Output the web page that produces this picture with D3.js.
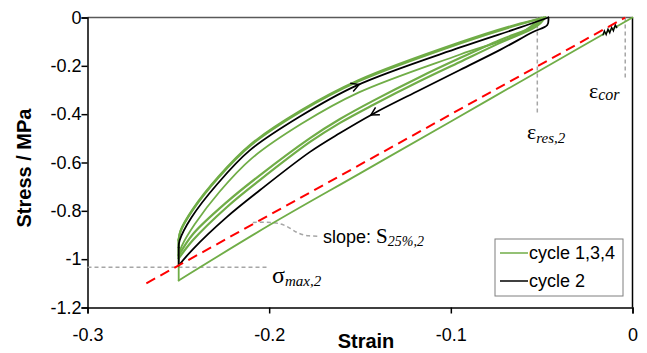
<!DOCTYPE html>
<html>
<head>
<meta charset="utf-8">
<script src="https://cdn.jsdelivr.net/npm/d3@7"></script>
<style>
  body { margin: 0; background: #fff; }
  svg { display: block; font-family: Arial, "Liberation Sans", sans-serif; }
</style>
</head>
<body>
<div id="chart"></div>
<script>
// axis ticks
const xTicks = [-0.3, -0.2, -0.1, 0];
const yTicks = [0, -0.2, -0.4, -0.6, -0.8, -1, -1.2];

// [strain, stress] -- loading runs start -> peak, unloading runs peak -> end
const cycle1Load = [[0, 0], [-0.05, -0.215], [-0.10, -0.43], [-0.15, -0.645], [-0.20, -0.86], [-0.2498, -1.088]];
const cycle1Unload = [[-0.2498, -0.981], [-0.2482, -0.947], [-0.2410, -0.856], [-0.2272, -0.720], [-0.2096, -0.583],
  [-0.1820, -0.439], [-0.1506, -0.310], [-0.0949, -0.153], [-0.0618, -0.066], [-0.0502, 0]];

const cycle2Load = [[-0.0463, 0], [-0.0469, -0.031], [-0.0548, -0.060], [-0.0729, -0.134], [-0.0950, -0.217], [-0.1170, -0.300],
  [-0.1429, -0.399], [-0.1610, -0.478], [-0.1775, -0.556], [-0.2050, -0.714], [-0.2232, -0.825], [-0.2419, -0.958], [-0.2498, -1.026]];
const cycle2Unload = [[-0.2498, -0.952], [-0.2493, -0.923], [-0.2427, -0.827], [-0.2283, -0.687], [-0.2107, -0.550],
  [-0.1831, -0.410], [-0.1517, -0.281], [-0.0949, -0.124], [-0.0618, -0.041], [-0.0463, 0]];

const cycle3Load = [[-0.0480, 0], [-0.0529, -0.037], [-0.0729, -0.105], [-0.0950, -0.184], [-0.1170, -0.263],
  [-0.1429, -0.362], [-0.1610, -0.436], [-0.1775, -0.515], [-0.2050, -0.672], [-0.2232, -0.784], [-0.2419, -0.921], [-0.2498, -0.997]];
const cycle3Unload = [[-0.2498, -0.918], [-0.2487, -0.881], [-0.2421, -0.794], [-0.2278, -0.658], [-0.2101, -0.525],
  [-0.1825, -0.385], [-0.1511, -0.261], [-0.0949, -0.103], [-0.0618, -0.025], [-0.0480, 0]];

const cycle4Load = [[-0.0491, 0], [-0.0546, -0.037], [-0.0729, -0.093], [-0.0950, -0.168], [-0.1170, -0.246],
  [-0.1429, -0.345], [-0.1610, -0.420], [-0.1775, -0.499], [-0.2050, -0.652], [-0.2232, -0.763], [-0.2419, -0.896], [-0.2498, -0.985]];
const cycle4Unload = [[-0.2498, -0.922], [-0.2488, -0.885], [-0.2422, -0.798], [-0.2279, -0.662], [-0.2102, -0.529],
  [-0.1826, -0.389], [-0.1512, -0.265], [-0.0950, -0.107], [-0.0618, -0.028], [-0.0477, 0]];

// small black squiggle on the first loading line
const squiggle = [[-0.0085, -0.044], [-0.0095, -0.030], [-0.0105, -0.056], [-0.0115, -0.040], [-0.0125, -0.064],
  [-0.0135, -0.048], [-0.0145, -0.071], [-0.0155, -0.055], [-0.0163, -0.074]];

// slope line S25%,2 and reference values
const slopeLine = [[-0.2676, -1.10], [-0.004, 0]];
const sigmaMax2 = -1.033;
const epsRes2 = -0.0524;
const epsCor = -0.004;
const leaderLine = [[-0.209, -0.848], [-0.197, -0.846], [-0.190, -0.862], [-0.184, -0.896], [-0.178, -0.905], [-0.172, -0.905]];

const legendItems = ["cycle 1,3,4", "cycle 2"];

const GREEN = "#70ad47";
const RED = "#ff0000";
const GREY = "#a6a6a6";

const width = 647, height = 353;
const svg = d3.select("#chart").append("svg")
  .attr("width", width)
  .attr("height", height);

const x = d3.scaleLinear().domain([-0.3, 0]).range([87.5, 632.5]);
const y = d3.scaleLinear().domain([-1.2, 0]).range([307.5, 17.5]);

const line = d3.line().x(d => x(d[0])).y(d => y(d[1]));
const smooth = d3.line().curve(d3.curveCatmullRom.alpha(0.5)).x(d => x(d[0])).y(d => y(d[1]));

// frame (top + right)
svg.append("line").attr("x1", x(-0.3)).attr("x2", x(0)).attr("y1", y(0)).attr("y2", y(0))
  .attr("stroke", "#595959").attr("stroke-width", 1.5);
svg.append("line").attr("x1", x(0)).attr("x2", x(0)).attr("y1", y(0)).attr("y2", y(-1.2))
  .attr("stroke", "#000").attr("stroke-width", 1.5);

// axes
const xAxis = svg.append("g")
  .attr("transform", `translate(0,${y(-1.2)})`)
  .call(d3.axisBottom(x).tickValues(xTicks).tickSize(6).tickFormat(d => d === 0 ? "0" : d3.format(".1f")(d).replace("−", "-")));
const yAxis = svg.append("g")
  .attr("transform", `translate(${x(-0.3)},0)`)
  .call(d3.axisLeft(y).tickValues(yTicks).tickSize(6).tickFormat(d => String(d)));
[xAxis, yAxis].forEach(g => {
  g.select(".domain").attr("stroke", "#000").attr("stroke-width", 1.5);
  g.selectAll(".tick line").attr("stroke", "#000").attr("stroke-width", 1.5);
  g.selectAll(".tick text").attr("fill", "#000").attr("font-size", 18).attr("font-family", "Arial, 'Liberation Sans', sans-serif");
});
xAxis.selectAll(".tick text").attr("dy", "0").attr("y", 33);
yAxis.selectAll(".tick text").attr("x", -6);

// axis titles
svg.append("text").attr("x", 366).attr("y", 348).attr("text-anchor", "middle")
  .attr("font-size", 20).attr("font-weight", "bold").text("Strain");
svg.append("text").attr("transform", "translate(31,168) rotate(-90)").attr("text-anchor", "middle")
  .attr("font-size", 20).attr("font-weight", "bold").text("Stress / MPa");

// grey helper lines
const dash = "4,3";
svg.append("line").attr("x1", x(-0.3)).attr("x2", x(-0.2)).attr("y1", y(sigmaMax2)).attr("y2", y(sigmaMax2))
  .attr("stroke", GREY).attr("stroke-width", 1.5).attr("stroke-dasharray", dash);
svg.append("line").attr("x1", x(epsRes2)).attr("x2", x(epsRes2)).attr("y1", y(0)).attr("y2", y(-0.4))
  .attr("stroke", GREY).attr("stroke-width", 1.5).attr("stroke-dasharray", dash);
svg.append("line").attr("x1", x(epsCor)).attr("x2", x(epsCor)).attr("y1", y(0)).attr("y2", y(-0.25))
  .attr("stroke", GREY).attr("stroke-width", 1.5).attr("stroke-dasharray", dash);
svg.append("path").attr("d", d3.line().curve(d3.curveBasis).x(d => x(d[0])).y(d => y(d[1]))(leaderLine))
  .attr("fill", "none").attr("stroke", GREY).attr("stroke-width", 1.5).attr("stroke-dasharray", dash);

// one hysteresis loop: smooth loading, straight relaxation at peak strain, smooth unloading
function drawCycle(ld, ul, color, w) {
  const g = svg.append("g").attr("fill", "none").attr("stroke", color)
    .attr("stroke-width", w).attr("stroke-linejoin", "round").attr("stroke-linecap", "round");
  g.append("path").attr("d", smooth(ld));
  g.append("path").attr("d", line([ld[ld.length - 1], ul[0]]));
  g.append("path").attr("d", smooth(ul));
}
drawCycle(cycle1Load, cycle1Unload, GREEN, 1.8);
drawCycle(cycle3Load, cycle3Unload, GREEN, 2.2);
drawCycle(cycle4Load, cycle4Unload, GREEN, 2.2);
drawCycle(cycle2Load, cycle2Unload, "#000", 1.8);

svg.append("path").attr("d", line(squiggle))
  .attr("fill", "none").attr("stroke", "#000").attr("stroke-width", 1.3);

// red slope line
svg.append("path").attr("d", line(slopeLine))
  .attr("fill", "none").attr("stroke", RED).attr("stroke-width", 2).attr("stroke-dasharray", "10,6");

// direction arrows on cycle 2 (pointing along the data order)
function arrowAt(data, strain) {
  const pts = data.map(d => [x(d[0]), y(d[1])]);
  const px = x(strain);
  let i = 1;
  while (i < pts.length - 1 && !((pts[i - 1][0] - px) * (pts[i][0] - px) <= 0)) i++;
  const a = pts[i - 1], b = pts[i];
  const t = (px - a[0]) / (b[0] - a[0]);
  const py = a[1] + t * (b[1] - a[1]);
  const ang = Math.atan2(b[1] - a[1], b[0] - a[0]);
  const len = 9, spread = 0.5;
  const p1 = [px - len * Math.cos(ang - spread), py - len * Math.sin(ang - spread)];
  const p2 = [px - len * Math.cos(ang + spread), py - len * Math.sin(ang + spread)];
  svg.append("path").attr("d", `M${p1}L${px},${py}L${p2}`)
    .attr("fill", "none").attr("stroke", "#000").attr("stroke-width", 1.5);
}
arrowAt(cycle2Unload, -0.1505);
arrowAt(cycle2Load, -0.1440);

// annotations
const serif = "'Liberation Serif', 'DejaVu Serif', serif";
const sig = svg.append("text").attr("x", 272).attr("y", 283).attr("font-family", serif).attr("font-size", 24);
sig.append("tspan").text("σ");
sig.append("tspan").attr("font-size", 15).attr("font-style", "italic").attr("dy", 3).text("max,2");

const slope = svg.append("text").attr("x", 323).attr("y", 243).attr("font-size", 18);
slope.append("tspan").text("slope: ");
slope.append("tspan").attr("font-family", serif).attr("font-size", 21).text("S");
slope.append("tspan").attr("font-family", serif).attr("font-size", 14).attr("font-style", "italic").attr("dy", 3).text("25%,2");

const er = svg.append("text").attr("x", 527).attr("y", 139).attr("font-family", serif).attr("font-size", 22);
er.append("tspan").text("ε");
er.append("tspan").attr("font-size", 15).attr("font-style", "italic").attr("dy", 4).text("res,2");

const ec = svg.append("text").attr("x", 589).attr("y", 98).attr("font-family", serif).attr("font-size", 22);
ec.append("tspan").text("ε");
ec.append("tspan").attr("font-size", 16).attr("font-style", "italic").attr("dy", 2).text("cor");

// legend
const lg = svg.append("g").attr("transform", "translate(495,239)");
lg.append("rect").attr("width", 128).attr("height", 57).attr("fill", "#fff")
  .attr("stroke", "#7f7f7f").attr("stroke-width", 1);
legendItems.forEach((name, i) => {
  const yy = 14 + i * 28;
  lg.append("line").attr("x1", 5).attr("x2", 33).attr("y1", yy).attr("y2", yy)
    .attr("stroke", i === 0 ? GREEN : "#000").attr("stroke-width", 1.5);
  lg.append("text").attr("x", 34).attr("y", yy + 6).attr("font-size", 18).text(name);
});
</script>
</body>
</html>
